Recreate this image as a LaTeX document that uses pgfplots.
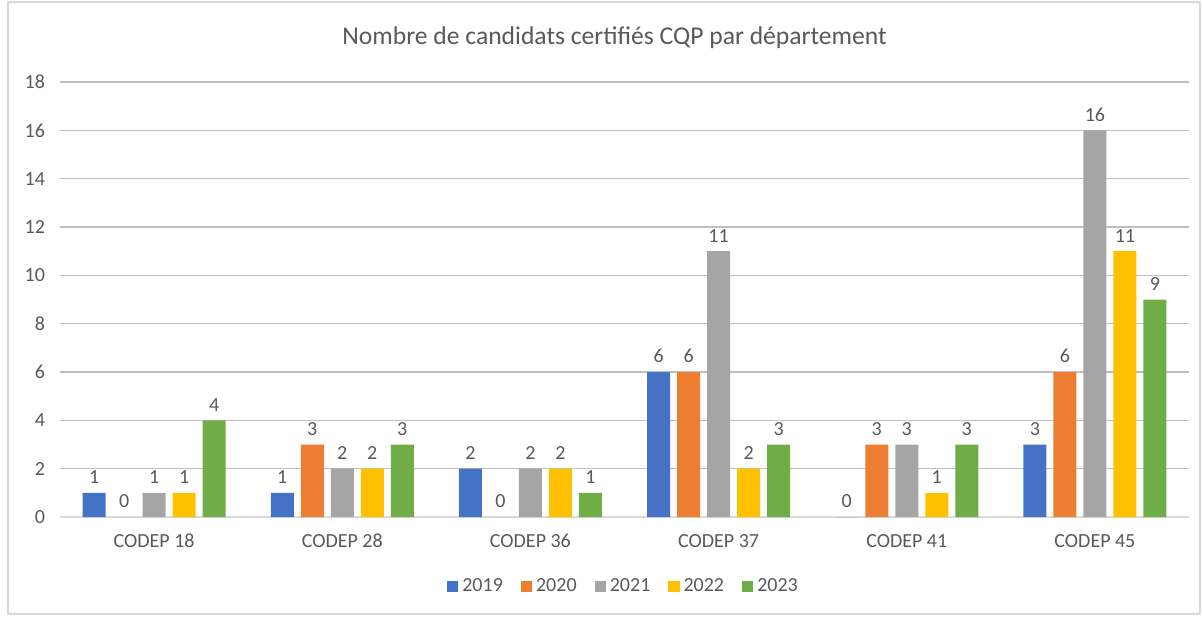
\documentclass[border=0pt]{standalone}
\usepackage{fontspec}
\setmainfont{Carlito}
\usepackage{pgfplots}
\pgfplotsset{compat=1.18}
\definecolor{cBlue}{HTML}{4472C4}
\definecolor{cOrange}{HTML}{ED7D31}
\definecolor{cGray}{HTML}{A5A5A5}
\definecolor{cYellow}{HTML}{FFC000}
\definecolor{cGreen}{HTML}{70AD47}
\definecolor{txt}{HTML}{595959}
\definecolor{grid}{HTML}{D9D9D9}
\begin{document}
\begin{tikzpicture}
\useasboundingbox (0,0) rectangle (601.5pt,308pt);
\draw[grid,line width=0.6pt] (4pt,1pt) rectangle (600pt,307pt);
\begin{axis}[
  at={(30pt,49.5pt)}, anchor=south west,
  scale only axis, width=564.5pt, height=217.5pt,
  ybar=3.5pt, bar width=11.5pt,
  xmin=-0.5, xmax=5.5, ymin=0, ymax=18,
  xtick={0,1,2,3,4,5},
  xticklabels={CODEP 18,CODEP 28,CODEP 36,CODEP 37,CODEP 41,CODEP 45},
  ytick={0,2,...,18},
  major tick length=0pt,
  axis x line*=bottom, axis y line*=left,
  y axis line style={draw=none},
  x axis line style={grid, line width=0.8pt, -},
  xmajorgrids=false, ymajorgrids=true, grid style={grid, line width=0.8pt},
  tick label style={font=\fontsize{10}{12}\selectfont, text=txt},
  /pgf/number format/assume math mode=true,
  xticklabel style={yshift=-5pt},
  yticklabel style={xshift=-4pt},
  title={Nombre de candidats certifiés CQP par département},
  title style={font=\fontsize{12.8}{15}\selectfont, text=txt, at={(0.5,1)}, anchor=center, yshift=16pt, xshift=-5pt},
  nodes near coords,
  every node near coord/.append style={font=\fontsize{10}{12}\selectfont, text=txt, yshift=1pt},
  legend columns=5,
  legend style={draw=none, at={(0.5,-0.16)}, anchor=center, font=\fontsize{10}{12}\selectfont, text=txt,
    /tikz/every even column/.append style={column sep=7pt}},
  legend image code/.code={\fill[#1] (0pt,-2.8pt) rectangle (5.6pt,2.8pt);},
]
\addplot[fill=cBlue, draw=none] coordinates {(0,1) (1,1) (2,2) (3,6) (4,0) (5,3)};
\addplot[fill=cOrange, draw=none] coordinates {(0,0) (1,3) (2,0) (3,6) (4,3) (5,6)};
\addplot[fill=cGray, draw=none] coordinates {(0,1) (1,2) (2,2) (3,11) (4,3) (5,16)};
\addplot[fill=cYellow, draw=none] coordinates {(0,1) (1,2) (2,2) (3,2) (4,1) (5,11)};
\addplot[fill=cGreen, draw=none] coordinates {(0,4) (1,3) (2,1) (3,3) (4,3) (5,9)};
\legend{2019,2020,2021,2022,2023}
\end{axis}
\end{tikzpicture}
\end{document}
